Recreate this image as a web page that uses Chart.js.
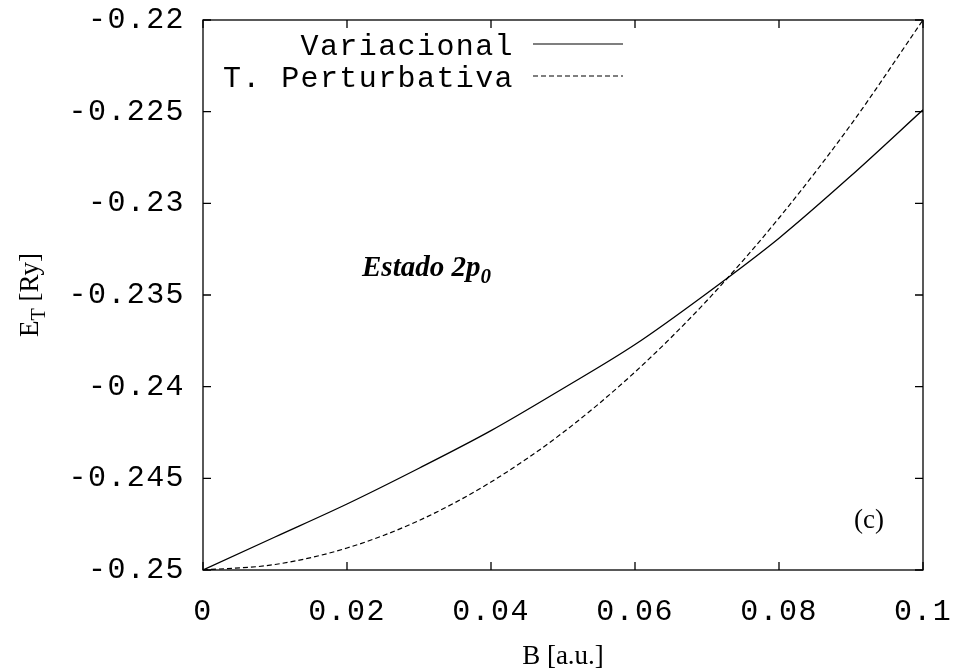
<!DOCTYPE html>
<html>
<head>
<meta charset="utf-8">
<script src="https://cdn.jsdelivr.net/npm/chart.js@4"></script>
<style>
  html, body { margin: 0; padding: 0; background: #fff; }
  #wrap { width: 955px; height: 672px; }
</style>
</head>
<body>
<div id="wrap"><canvas id="chart"></canvas></div>
<script>
// magnetic field B [a.u.]
const bValues = [0, 0.01, 0.02, 0.03, 0.04, 0.05, 0.06, 0.07, 0.08, 0.09, 0.1];
// E_T [Ry]
const variacional = [-0.25, -0.2482, -0.2464, -0.24445, -0.2424, -0.2401, -0.2377, -0.2349, -0.2319, -0.2285, -0.2249];
const perturbativa = [-0.25, -0.2497, -0.2488, -0.2473, -0.2452, -0.2425, -0.2392, -0.2353, -0.2308, -0.2257, -0.2200];

const seriesNames = ["Variacional", "T. Perturbativa"];
const xTitle = "B [a.u.]";
const yTitle = ["E", "T", " [Ry]"];
const stateLabel = ["Estado 2p", "0"];
const panelLabel = "(c)";

const monoFont = "Liberation Mono";
const serifFont = "Liberation Serif";
const spacing = "1.4px";

function points(ys) {
  return bValues.map((b, i) => ({ x: b, y: ys[i] }));
}

function fmt(v) {
  return String(+v.toFixed(3));
}

// gnuplot-like frame: box, inward ticks on all four sides, right-aligned legend
const framePlugin = {
  id: "frame",
  beforeDraw(chart) {
    chart.ctx.letterSpacing = spacing;
  },
  afterDatasetsDraw(chart) {
    const ctx = chart.ctx;
    const a = chart.chartArea;
    const xs = chart.scales.x;
    const ys = chart.scales.y;
    ctx.save();
    ctx.strokeStyle = "#000";
    ctx.lineWidth = 1.3;
    ctx.strokeRect(a.left, a.top, a.right - a.left, a.bottom - a.top);
    ctx.beginPath();
    xs.ticks.forEach(t => {
      const px = xs.getPixelForValue(t.value);
      ctx.moveTo(px, a.bottom); ctx.lineTo(px, a.bottom - 8);
      ctx.moveTo(px, a.top); ctx.lineTo(px, a.top + 8);
    });
    ys.ticks.forEach(t => {
      const py = ys.getPixelForValue(t.value);
      ctx.moveTo(a.left, py); ctx.lineTo(a.left + 8, py);
      ctx.moveTo(a.right, py); ctx.lineTo(a.right - 8, py);
    });
    ctx.stroke();

    // legend
    ctx.font = "30px '" + monoFont + "'";
    ctx.letterSpacing = spacing;
    ctx.textAlign = "right";
    ctx.textBaseline = "middle";
    ctx.fillStyle = "#000";
    chart.data.datasets.forEach((ds, i) => {
      const y = a.top + 27 + i * 32;
      ctx.fillText(ds.label, 514, y);
      ctx.beginPath();
      ctx.lineWidth = 1.2;
      ctx.setLineDash(ds.borderDash || []);
      ctx.moveTo(533, y - 3);
      ctx.lineTo(623, y - 3);
      ctx.stroke();
    });
    ctx.setLineDash([]);
    ctx.restore();
  },
  afterDraw(chart) {
    const ctx = chart.ctx;
    const a = chart.chartArea;
    ctx.save();
    ctx.letterSpacing = "0px";
    ctx.fillStyle = "#000";
    ctx.textBaseline = "alphabetic";

    // x title
    ctx.font = "27px '" + serifFont + "'";
    ctx.textAlign = "center";
    ctx.fillText(xTitle, (a.left + a.right) / 2, 664);

    // y title with subscript, rotated
    ctx.save();
    ctx.translate(38, 295);
    ctx.rotate(-Math.PI / 2);
    const w0 = ctx.measureText(yTitle[0]).width;
    ctx.font = "20px '" + serifFont + "'";
    const w1 = ctx.measureText(yTitle[1]).width;
    ctx.font = "27px '" + serifFont + "'";
    const w2 = ctx.measureText(yTitle[2]).width;
    let x0 = -(w0 + w1 + w2) / 2;
    ctx.textAlign = "left";
    ctx.fillText(yTitle[0], x0, 0);
    ctx.font = "20px '" + serifFont + "'";
    ctx.fillText(yTitle[1], x0 + w0, 7);
    ctx.font = "27px '" + serifFont + "'";
    ctx.fillText(yTitle[2], x0 + w0 + w1, 0);
    ctx.restore();

    // state label
    ctx.textAlign = "left";
    ctx.font = "italic bold 29px '" + serifFont + "'";
    ctx.fillText(stateLabel[0], 362, 276);
    const ws = ctx.measureText(stateLabel[0]).width;
    ctx.font = "italic bold 21px '" + serifFont + "'";
    ctx.fillText(stateLabel[1], 362 + ws, 283);

    // panel label
    ctx.font = "27px '" + serifFont + "'";
    ctx.textAlign = "center";
    ctx.fillText(panelLabel, 869, 528);
    ctx.restore();
  }
};

new Chart(document.getElementById("chart"), {
  type: "line",
  data: {
    datasets: [
      {
        label: seriesNames[0],
        data: points(variacional),
        borderColor: "#000",
        borderWidth: 1.3,
        pointRadius: 0,
        cubicInterpolationMode: "monotone",
        fill: false
      },
      {
        label: seriesNames[1],
        data: points(perturbativa),
        borderColor: "#000",
        borderWidth: 1.2,
        borderDash: [5, 3],
        pointRadius: 0,
        cubicInterpolationMode: "monotone",
        fill: false
      }
    ]
  },
  options: {
    responsive: true,
    maintainAspectRatio: false,
    animation: false,
    layout: {
      padding: { left: 0, top: 20, right: 32, bottom: 0 }
    },
    plugins: {
      legend: { display: false },
      tooltip: { enabled: false }
    },
    scales: {
      x: {
        type: "linear",
        min: 0,
        max: 0.1,
        grid: { display: false, drawTicks: false },
        border: { display: false },
        afterFit(scale) {
          scale.height = 102;
          scale.paddingLeft = 0;
          scale.paddingRight = 0;
        },
        ticks: {
          stepSize: 0.02,
          autoSkip: false,
          maxRotation: 0,
          padding: 24,
          color: "#000",
          font: { family: monoFont, size: 30 },
          callback: v => fmt(v)
        }
      },
      y: {
        type: "linear",
        min: -0.25,
        max: -0.22,
        grid: { display: false, drawTicks: false },
        border: { display: false },
        afterFit(scale) {
          scale.width = 203;
          scale.paddingTop = 0;
          scale.paddingBottom = 0;
        },
        ticks: {
          stepSize: 0.005,
          autoSkip: false,
          padding: 18,
          color: "#000",
          font: { family: monoFont, size: 30 },
          callback: v => fmt(v)
        }
      }
    }
  },
  plugins: [framePlugin]
});
</script>
</body>
</html>
